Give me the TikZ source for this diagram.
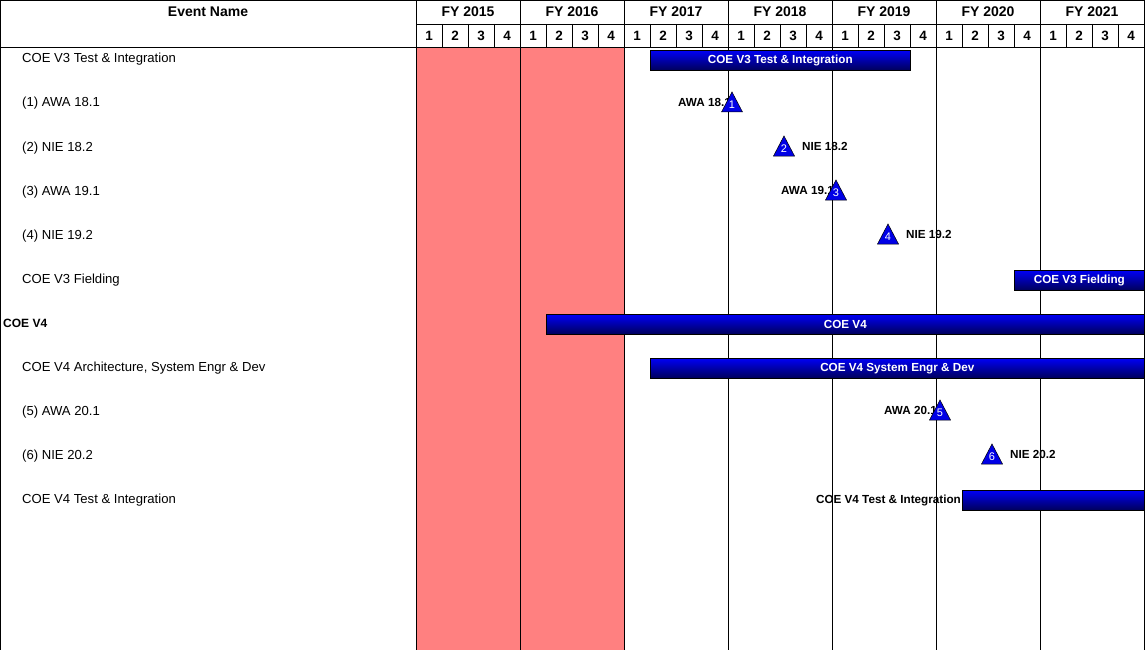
\documentclass[tikz,border=0pt]{standalone}
\usepackage{fontspec}
\setmainfont{Liberation Sans}
\definecolor{redzone}{HTML}{FF8080}
\definecolor{barTop}{RGB}{0,0,245}
\definecolor{barBot}{RGB}{0,0,90}
\definecolor{triBlue}{RGB}{0,0,230}
\begin{document}
\begin{tikzpicture}[x=1pt,y=-1pt,
  grid/.style={line width=0.8pt, black},
  rowlabel/.style={anchor=base west, inner sep=0, font=\fontsize{13.1}{15}\selectfont},
  hdr/.style={inner sep=0, font=\bfseries\fontsize{14}{16}\selectfont},
  qtr/.style={inner sep=0, font=\bfseries\fontsize{13.5}{15}\selectfont},
  bar/.style={draw=black, line width=0.6pt, top color=barTop, bottom color=barBot,
    anchor=north west, minimum height=20pt, inner sep=0, text=white,
    font=\bfseries\fontsize{11.7}{13}\selectfont},
  mlabel/.style={inner sep=0, font=\bfseries\fontsize{11.7}{13}\selectfont},
  mnum/.style={inner sep=0, text=white, font=\fontsize{11}{12}\selectfont},
  tri/.style={draw=black, line width=0.5pt, fill=triBlue}
]
\useasboundingbox (0,0) rectangle (1145,650);
\fill[white] (0,0) rectangle (1145,650);
% shaded past years
\fill[redzone] (416,47) rectangle (624,650);

% header texts
\node[hdr, anchor=base] (hEvent) at (208,16.5) {Event Name};
\foreach \yr [count=\i from 0] in {2015,2016,2017,2018,2019,2020,2021}{
  \node[hdr, anchor=base] (fy\i) at ({468+104*\i},16.7) {FY \yr};
  \foreach \q in {1,2,3,4}{
    \node[qtr, anchor=base] (q\i\q) at ({416+104*\i+26*\q-13},40.5) {\q};
  }
}

% row labels
\node[rowlabel] (r0) at (22,63) {COE V3 Test \& Integration};
\node[rowlabel] (r1) at (22,107) {(1) AWA 18.1};
\node[rowlabel] (r2) at (22,151) {(2) NIE 18.2};
\node[rowlabel] (r3) at (22,195) {(3) AWA 19.1};
\node[rowlabel] (r4) at (22,239) {(4) NIE 19.2};
\node[rowlabel] (r5) at (22,283) {COE V3 Fielding};
\node[rowlabel, font=\bfseries\fontsize{12}{14}\selectfont] (r6) at (3,327.5) {COE V4};
\node[rowlabel] (r7) at (22,371) {COE V4 Architecture, System Engr \& Dev};
\node[rowlabel] (r8) at (22,415) {(5) AWA 20.1};
\node[rowlabel] (r9) at (22,459) {(6) NIE 20.2};
\node[rowlabel] (r10) at (22,503) {COE V4 Test \& Integration};

% milestone labels
\node[mlabel, anchor=east] (m1l) at (731,102) {AWA 18.1};
\node[mlabel, anchor=west] (m2l) at (802,146) {NIE 18.2};
\node[mlabel, anchor=east] (m3l) at (834,190) {AWA 19.1};
\node[mlabel, anchor=west] (m4l) at (906,234) {NIE 19.2};
\node[mlabel, anchor=east] (m5l) at (937,410) {AWA 20.1};
\node[mlabel, anchor=west] (m6l) at (1010,454) {NIE 20.2};
\node[mlabel, anchor=east] (b10l) at (961,500) {COE V4 Test \& Integration};

% grid lines
\draw[grid] (0.5,0) -- (0.5,650);
\draw[grid] (0,0.5) -- (1144,0.5);
\draw[grid] (0,47) -- (1144,47);
\draw[grid] (416,24) -- (1144,24);
\foreach \k in {0,...,7}{
  \draw[grid] ({416+104*\k},0) -- ({416+104*\k},650);
}
\foreach \j in {1,...,27}{
  \draw[grid] ({416+26*\j},24) -- ({416+26*\j},47);
}

% bars
\node[bar, minimum width=260pt] (b0) at (650,50) {COE V3 Test \& Integration};
\node[bar, minimum width=130pt] (b5) at (1014,270) {COE V3 Fielding};
\node[bar, minimum width=598pt] (b6) at (546,314) {COE V4};
\node[bar, minimum width=494pt] (b7) at (650,358) {COE V4 System Engr \& Dev};
\node[bar, minimum width=182pt] (b10) at (962,490) {};

% milestones
\foreach \c/\k/\n in {732/1/1, 784/2/2, 836/3/3, 888/4/4, 940/8/5, 992/9/6}{
  \pgfmathsetmacro{\rt}{47+44*\k}
  \draw[tri] (\c,\rt+1) -- (\c+10.5,\rt+21) -- (\c-10.5,\rt+21) -- cycle;
  \node[mnum] (m\n) at (\c,\rt+14) {\n};
}
\end{tikzpicture}
\end{document}
